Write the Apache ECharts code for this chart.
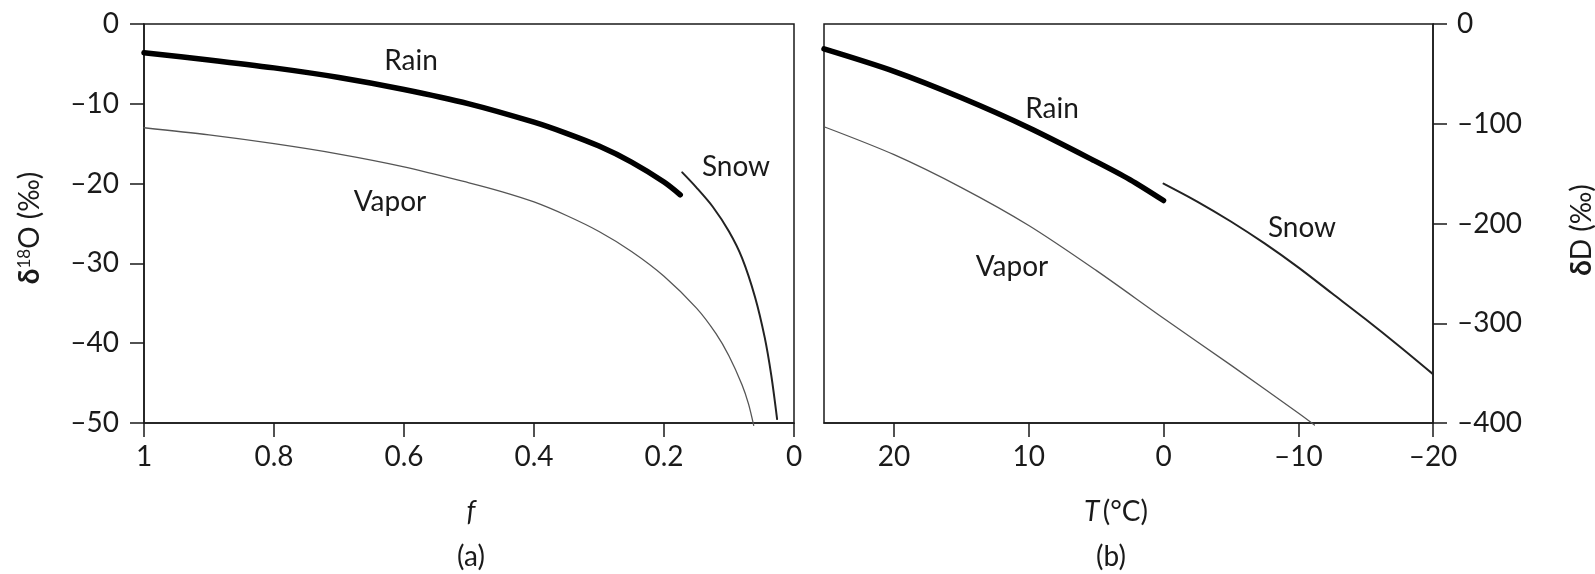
<!DOCTYPE html>
<html>
<head>
<meta charset="utf-8">
<script src="https://cdn.jsdelivr.net/npm/echarts@6/dist/echarts.min.js"></script>
<style>
  html, body { margin: 0; padding: 0; background: #fff; }
  #chart { width: 1595px; height: 574px; }
</style>
</head>
<body>
<div id="chart"></div>
<script>
// panel (a): delta18O vs fraction f
var fTicks = [1, 0.8, 0.6, 0.4, 0.2, 0];
var rainA = [[1, -3.6], [0.9, -4.5], [0.8, -5.5], [0.7, -6.7], [0.6, -8.2], [0.5, -10.0], [0.4, -12.3], [0.35, -13.7], [0.3, -15.3], [0.25, -17.3], [0.2, -19.8], [0.175, -21.4]];
var vaporA = [[1, -13], [0.9, -13.9], [0.8, -15], [0.7, -16.3], [0.6, -17.9], [0.5, -19.9], [0.45, -21.0], [0.4, -22.3], [0.35, -24.0], [0.3, -26.0], [0.25, -28.5], [0.2, -31.6], [0.15, -35.6], [0.12, -38.8], [0.1, -41.6], [0.08, -45.2], [0.07, -47.6], [0.062, -50.3]];
var snowA = [[0.172, -18.6], [0.15, -20.5], [0.125, -22.9], [0.1, -26.0], [0.08, -29.3], [0.06, -34.2], [0.045, -39.3], [0.035, -44.0], [0.026, -49.5]];

// panel (b): deltaD vs temperature
var tTicks = [20, 10, 0, -10, -20];
var rainB = [[25.2, -25], [20, -47.5], [15, -74], [10, -104], [5, -138], [2.5, -156], [0, -177]];
var vaporB = [[25.2, -103], [20, -131], [15, -164], [10, -202], [5, -247], [0, -295], [-5, -342], [-10, -390], [-11.2, -402]];
var snowB = [[0, -160], [-2.5, -178], [-5, -198], [-7.5, -220], [-10, -244], [-12.5, -270], [-15, -296], [-17.5, -323], [-20, -351]];

var FONT = "'Lato', 'Noto Sans', sans-serif";
var INK = '#1a1a1a';
var SIZE = 28;

var dash = function (v) {
    var s = String(+Math.abs(+v).toFixed(1));
    return v < 0 ? '\u2013' + s : s;
};

var axisBase = function (margin) {
    return {
        type: 'value',
        splitLine: { show: false },
        axisLine: { show: true, onZero: false, lineStyle: { color: INK, width: 1.5 } },
        axisTick: { show: true, inside: false, length: 14, lineStyle: { color: INK, width: 1.5 } },
        axisLabel: { color: INK, fontFamily: FONT, fontSize: SIZE, margin: margin, formatter: dash }
    };
};

var line = function (data, x, width, color) {
    return {
        type: 'line', xAxisIndex: x, yAxisIndex: x, data: data,
        showSymbol: false, smooth: 0.3, clip: false, silent: true,
        lineStyle: { width: width, color: color, cap: 'round' }
    };
};

var label = function (x, y, text) {
    return { type: 'text', x: x, y: y, style: { text: text, fill: INK, font: SIZE + 'px ' + FONT, textAlign: 'center', textVerticalAlign: 'middle' } };
};

var chart = echarts.init(document.getElementById('chart'));

var xa = axisBase(20);
xa.min = 0; xa.max = 1; xa.interval = 0.2; xa.inverse = true; xa.gridIndex = 0;
var ya = axisBase(25);
ya.min = -50; ya.max = 0; ya.interval = 10; ya.gridIndex = 0;

var xb = axisBase(20);
xb.min = -20; xb.max = 25.2; xb.interval = 10; xb.inverse = true; xb.gridIndex = 1;
xb.axisTick.customValues = tTicks;
xb.axisLabel.customValues = tTicks;
var yb = axisBase(24);
yb.min = -400; yb.max = 0; yb.interval = 100; yb.gridIndex = 1; yb.position = 'right';

chart.setOption({
    animation: false,
    backgroundColor: '#fff',
    grid: [
        { left: 144, top: 24, width: 650, height: 399, show: true, borderColor: INK, borderWidth: 1.5 },
        { left: 824, top: 24, width: 609, height: 399, show: true, borderColor: INK, borderWidth: 1.5 }
    ],
    xAxis: [xa, xb],
    yAxis: [ya, yb],
    series: [
        line(vaporA, 0, 1.3, '#555'),
        line(snowA, 0, 2, '#222'),
        line(rainA, 0, 5.5, '#000'),
        line(vaporB, 1, 1.3, '#555'),
        line(snowB, 1, 2, '#222'),
        line(rainB, 1, 5.5, '#000')
    ],
    graphic: [
        label(411, 61, 'Rain'),
        label(390, 202, 'Vapor'),
        label(736, 167, 'Snow'),
        label(1052, 109, 'Rain'),
        label(1012, 267, 'Vapor'),
        label(1302, 228, 'Snow'),
        {
            type: 'text', x: 30, y: 228, rotation: Math.PI / 2,
            style: {
                text: '{d|\u03b4}{s|18}{n|O (\u2030)}', fill: INK, textAlign: 'center', textVerticalAlign: 'middle',
                rich: {
                    d: { fontFamily: FONT, fontSize: SIZE, fontWeight: 'bold', verticalAlign: 'bottom' },
                    s: { fontFamily: FONT, fontSize: 17, verticalAlign: 'top' },
                    n: { fontFamily: FONT, fontSize: SIZE, verticalAlign: 'bottom' }
                }
            }
        },
        {
            type: 'text', x: 1582, y: 230, rotation: Math.PI / 2,
            style: {
                text: '{d|\u03b4}{n|D (\u2030)}', fill: INK, textAlign: 'center', textVerticalAlign: 'middle',
                rich: {
                    d: { fontFamily: FONT, fontSize: SIZE, fontWeight: 'bold' },
                    n: { fontFamily: FONT, fontSize: SIZE }
                }
            }
        },
        { type: 'text', x: 471, y: 512, style: { text: 'f', fill: INK, font: 'italic ' + SIZE + 'px ' + FONT, textAlign: 'center', textVerticalAlign: 'middle' } },
        {
            type: 'text', x: 1116, y: 512,
            style: {
                text: '{i|T} {n|(\u00b0C)}', fill: INK, textAlign: 'center', textVerticalAlign: 'middle',
                rich: {
                    i: { fontFamily: FONT, fontSize: SIZE, fontStyle: 'italic' },
                    n: { fontFamily: FONT, fontSize: SIZE }
                }
            }
        },
        label(471, 557, '(a)'),
        label(1111, 557, '(b)')
    ]
});
</script>
</body>
</html>
